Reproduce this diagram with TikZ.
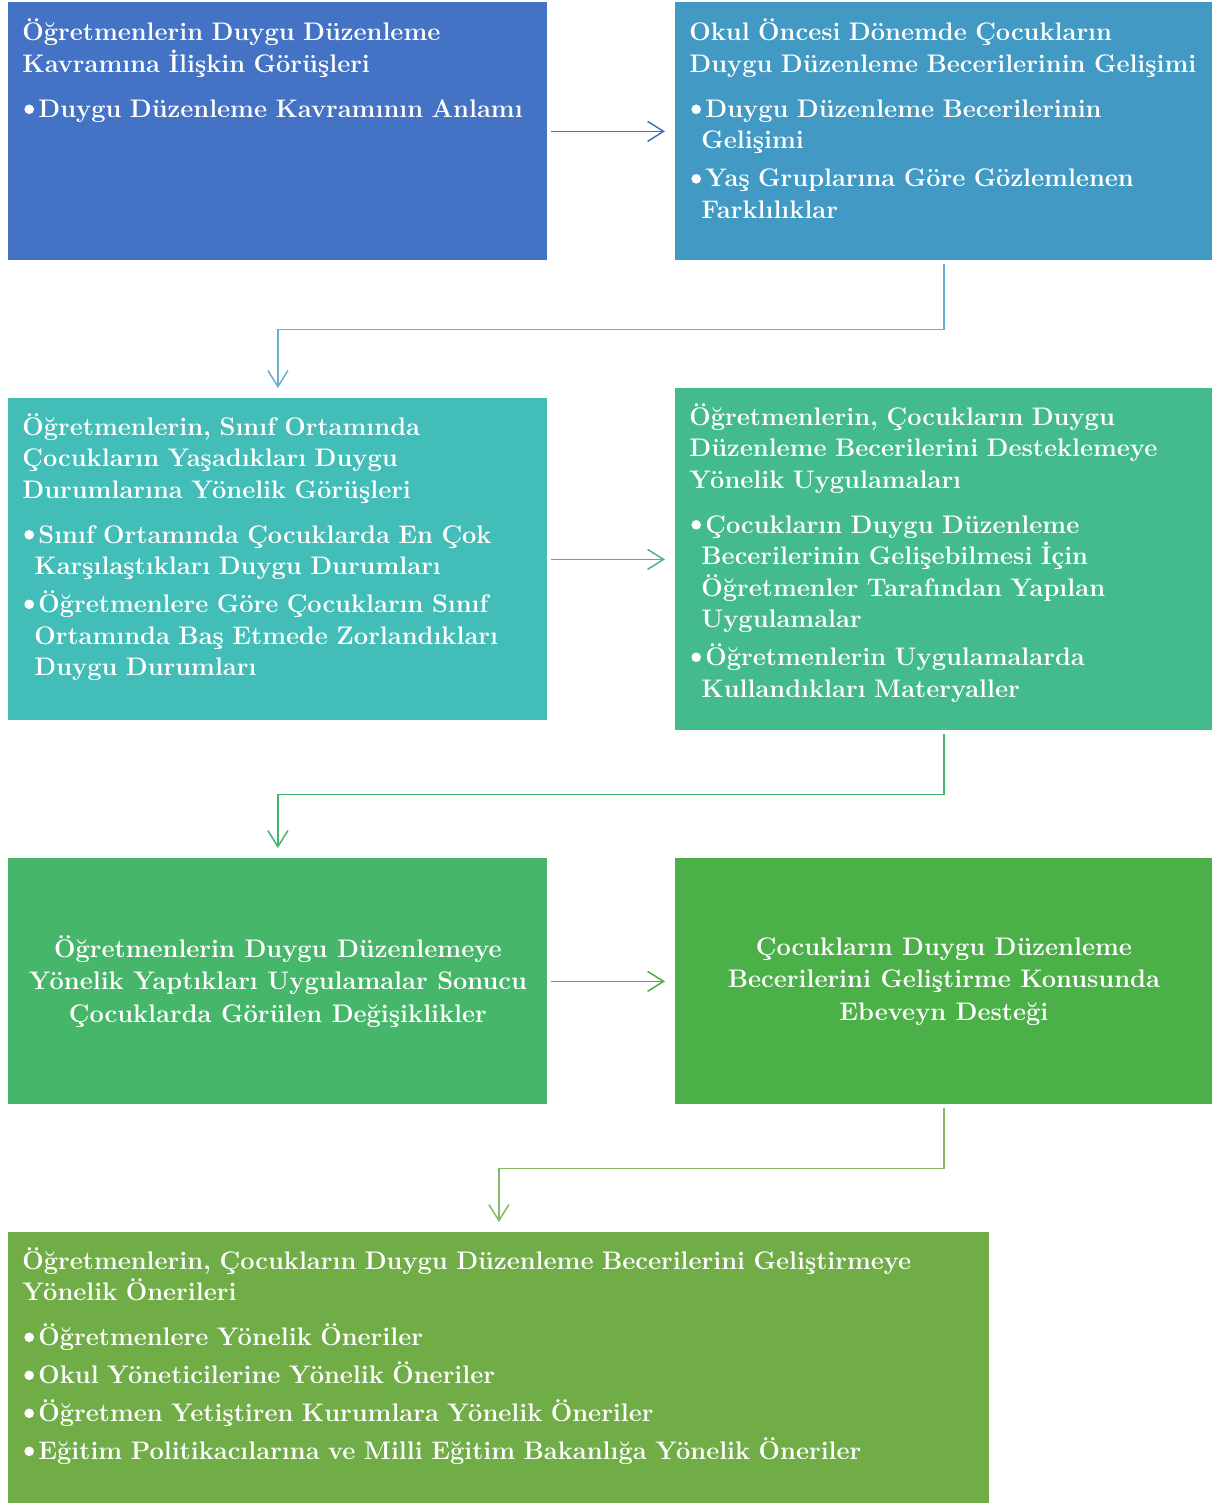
\documentclass[tikz,border=0pt]{standalone}
\usetikzlibrary{arrows.meta,calc}

\definecolor{boxA}{HTML}{4472C4}
\definecolor{boxB}{HTML}{429AC4}
\definecolor{boxC}{HTML}{43BDB8}
\definecolor{boxD}{HTML}{44BB8C}
\definecolor{boxE}{HTML}{46B66A}
\definecolor{boxF}{HTML}{4CB049}
\definecolor{boxG}{HTML}{70AD47}

\newcommand{\head}[1]{\noindent#1\par\vspace{3.5pt}}
\newcommand{\bul}[1]{\vspace{3.25pt}\hangindent=6pt\hangafter=1\noindent\hspace*{1pt}%
  \makebox[7pt][l]{\tikz[baseline=0pt]\fill[white] (2.4pt,4.1pt) circle (2.4pt);}#1\par}

\begin{document}
\begin{tikzpicture}[x=0.5pt, y=-0.5pt,
    box/.style={draw=none, inner sep=0, anchor=north west},
    txt/.style={inner sep=0, anchor=base west, text=white, align=left,
      font=\fontsize{12.7pt}{15.75pt}\selectfont\bfseries},
    mid/.style={text=white, align=center,
      font=\fontsize{12.7pt}{16.25pt}\selectfont\bfseries},
    conn/.style={line width=0.75pt, -{Straight Barb[length=8pt, width=10pt]},
      shorten <=1.5pt, shorten >=5pt}]
  \useasboundingbox (0,0) rectangle (1212,1503);

  \node[box, fill=boxA, minimum width=269.5pt, minimum height=129pt] (b1) at (8,2) {};
  \node[box, fill=boxB, minimum width=268.5pt, minimum height=129pt] (b2) at (675,2) {};
  \node[box, fill=boxC, minimum width=269.5pt, minimum height=161pt] (b3) at (8,398) {};
  \node[box, fill=boxD, minimum width=268.5pt, minimum height=171pt] (b4) at (675,388) {};
  \node[box, fill=boxE, minimum width=269.5pt, minimum height=123pt] (b5) at (8,858) {};
  \node[box, fill=boxF, minimum width=268.5pt, minimum height=123pt] (b6) at (675,858) {};
  \node[box, fill=boxG, minimum width=490.5pt, minimum height=135.5pt] (b7) at (8,1232) {};

  \node[txt, text width=264pt] (t1) at ($(b1.north west)+(14,39)$) {%
    \head{Öğretmenlerin Duygu Düzenleme\newline Kavramına İlişkin Görüşleri}%
    \bul{Duygu Düzenleme Kavramının Anlamı}};
  \node[txt, text width=264pt] (t2) at ($(b2.north west)+(14,39)$) {%
    \head{Okul Öncesi Dönemde Çocukların\newline Duygu Düzenleme Becerilerinin Gelişimi}%
    \bul{Duygu Düzenleme Becerilerinin\newline Gelişimi}%
    \bul{Yaş Gruplarına Göre Gözlemlenen\newline Farklılıklar}};
  \node[txt, text width=264pt] (t3) at ($(b3.north west)+(14,37)$) {%
    \head{Öğretmenlerin, Sınıf Ortamında\newline Çocukların Yaşadıkları Duygu\newline Durumlarına Yönelik Görüşleri}%
    \bul{Sınıf Ortamında Çocuklarda En Çok\newline Karşılaştıkları Duygu Durumları}%
    \bul{Öğretmenlere Göre Çocukların Sınıf\newline Ortamında Baş Etmede Zorlandıkları\newline Duygu Durumları}};
  \node[txt, text width=264pt] (t4) at ($(b4.north west)+(14,37)$) {%
    \head{Öğretmenlerin, Çocukların Duygu\newline Düzenleme Becerilerini Desteklemeye\newline Yönelik Uygulamaları}%
    \bul{Çocukların Duygu Düzenleme\newline Becerilerinin Gelişebilmesi İçin\newline Öğretmenler Tarafından Yapılan\newline Uygulamalar}%
    \bul{Öğretmenlerin Uygulamalarda\newline Kullandıkları Materyaller}};
  \node[mid] (t5) at (b5.center) {Öğretmenlerin Duygu Düzenlemeye\\Yönelik Yaptıkları Uygulamalar Sonucu\\Çocuklarda Görülen Değişiklikler};
  \node[mid] (t6) at (b6.center) {Çocukların Duygu Düzenleme\\Becerilerini Geliştirme Konusunda\\Ebeveyn Desteği};
  \node[txt, text width=480pt] (t7) at ($(b7.north west)+(14,37)$) {%
    \head{Öğretmenlerin, Çocukların Duygu Düzenleme Becerilerini Geliştirmeye\newline Yönelik Önerileri}%
    \bul{Öğretmenlere Yönelik Öneriler}%
    \bul{Okul Yöneticilerine Yönelik Öneriler}%
    \bul{Öğretmen Yetiştiren Kurumlara Yönelik Öneriler}%
    \bul{Eğitim Politikacılarına ve Milli Eğitim Bakanlığa Yönelik Öneriler}};

  \draw[conn, boxA] (b1.east) -- (b2.west);
  \draw[conn, boxB!80!white] (b2.south) |- ($(b2.south)!.5!(b3.north)$) -| (b3.north);
  \draw[conn, boxD] (b3.east) -- (b4.west);
  \draw[conn, boxE] (b4.south) |- ($(b4.south)!.5!(b5.north)$) -| (b5.north);
  \draw[conn, boxF] (b5.east) -- (b6.west);
  \draw[conn, boxG!85!white] (b6.south) |- ($(b6.south)!.5!(b7.north)$) -| (b7.north);
\end{tikzpicture}
\end{document}
